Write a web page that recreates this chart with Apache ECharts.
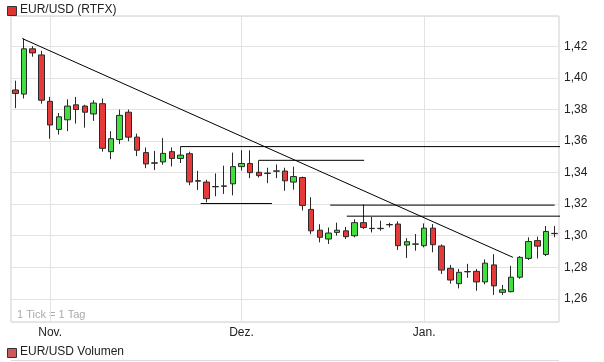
<!DOCTYPE html>
<html><head><meta charset="utf-8">
<script src="https://cdn.jsdelivr.net/npm/echarts@6/dist/echarts.min.js"></script>
<style>html,body{margin:0;padding:0;background:#fff}#c{width:604px;height:362px}</style>
</head><body><div id="c"></div>
<script>
// ---- data ----
const opens  = [1.3924,1.3898,1.4185,1.4146,1.3852,1.3674,1.3735,1.3830,1.3822,1.3772,1.3837,1.3533,1.3610,1.3783,1.3625,1.3527,1.3462,1.3468,1.3533,1.3490,1.3520,1.3349,1.3340,1.3310,1.3313,1.3329,1.3438,1.3458,1.3402,1.3395,1.3409,1.3410,1.3340,1.3369,1.3167,1.3035,1.2979,1.3021,1.3031,1.3000,1.3083,1.3045,1.3045,1.3069,1.3074,1.2941,1.2946,1.2937,1.3048,1.2935,1.2793,1.2696,1.2771,1.2774,1.2707,1.2815,1.2641,1.2645,1.2737,1.2856,1.2969,1.2881,1.3013];
const closes = [1.3902,1.4185,1.4159,1.3859,1.3702,1.3754,1.3822,1.3800,1.3783,1.3841,1.3554,1.3615,1.3763,1.3625,1.3542,1.3455,1.3460,1.3522,1.3490,1.3511,1.3341,1.3346,1.3235,1.3312,1.3316,1.3438,1.3458,1.3400,1.3381,1.3397,1.3411,1.3348,1.3375,1.3192,1.3031,1.2990,1.3017,1.3035,1.2994,1.3083,1.3052,1.3047,1.3047,1.3071,1.2937,1.2962,1.2948,1.3048,1.2943,1.2782,1.2719,1.2768,1.2773,1.2707,1.2826,1.2682,1.2657,1.2737,1.2863,1.2963,1.2934,1.3027,1.3015];
const lows   = [1.3809,1.3870,1.4135,1.3837,1.3615,1.3641,1.3663,1.3711,1.3685,1.3728,1.3533,1.3485,1.3581,1.3599,1.3505,1.3428,1.3417,1.3450,1.3439,1.3461,1.3320,1.3290,1.3212,1.3250,1.3265,1.3256,1.3413,1.3365,1.3369,1.3333,1.3365,1.3285,1.3292,1.3160,1.3010,1.2958,1.2948,1.3000,1.2979,1.2990,1.3042,1.3021,1.3032,1.3053,1.2910,1.2859,1.2905,1.2926,1.2895,1.2758,1.2696,1.2666,1.2733,1.2651,1.2692,1.2625,1.2625,1.2641,1.2727,1.2846,1.2856,1.2871,1.2990];
const highs  = [1.3983,1.4250,1.4202,1.4172,1.3880,1.3778,1.3865,1.3880,1.3830,1.3859,1.3870,1.3663,1.3800,1.3800,1.3647,1.3560,1.3538,1.3619,1.3560,1.3566,1.3533,1.3412,1.3355,1.3395,1.3444,1.3527,1.3542,1.3542,1.3478,1.3431,1.3452,1.3431,1.3438,1.3375,1.3244,1.3073,1.3052,1.3083,1.3056,1.3104,1.3198,1.3119,1.3095,1.3082,1.3091,1.2985,1.3011,1.3078,1.3074,1.2945,1.2815,1.2789,1.2822,1.2789,1.2850,1.2883,1.2688,1.2809,1.2871,1.2990,1.2994,1.3062,1.3062];
const monthIndex = [4, 26, 47];
const monthNames = ['Nov.', 'Dez.', 'Jan.'];
const yTicks = ['1,26','1,28','1,30','1,32','1,34','1,36','1,38','1,40','1,42'];
// drawn annotation lines: [index, value] pairs
const trendLine = [[0.8, 1.4250], [57.2, 1.2863]];
const hLine1 = [[19, 1.3565], [62.8, 1.3565]];
const hLine2 = [[28, 1.3478], [40.1, 1.3478]];
const hLine3 = [[21.3, 1.3204], [29.5, 1.3204]];
const hLine4 = [[36.2, 1.3194], [62.0, 1.3194]];
const hLine5 = [[38.1, 1.3124], [63.3, 1.3124]];
const yMin = 1.2453, yMax = 1.4393;

// ---- build ----
const categories = opens.map((_, i) => String(i));
const ohlc = opens.map((o, i) => [o, closes[i], lows[i], highs[i]]);
const font = "'Liberation Sans', Arial, sans-serif";
const annot = [trendLine, hLine1, hLine2, hLine3, hLine4, hLine5].map(d => ({
  type: 'line', xAxisIndex: 1, yAxisIndex: 0, data: d, symbol: 'none', clip: false,
  silent: true, z: 3, lineStyle: { color: '#000', width: 1 }
}));

const chart = echarts.init(document.getElementById('c'), null, { renderer: 'canvas' });
chart.setOption({
  animation: false,
  backgroundColor: '#fff',
  textStyle: { fontFamily: font },
  grid: { left: 11, right: 45, top: 16, bottom: 40, show: true, borderColor: '#cfcfcf', borderWidth: 1, backgroundColor: 'transparent' },
  xAxis: [{
    type: 'category', data: categories, boundaryGap: true,
    axisLine: { show: false }, axisTick: { show: false },
    splitLine: { show: false },
    axisLabel: {
      interval: (i) => monthIndex.includes(i),
      formatter: (v, i) => { const k = monthIndex.indexOf(i); return k >= 0 ? monthNames[k] : ''; },
      color: '#222', fontSize: 12, fontFamily: font, margin: 5
    }
  }, {
    type: 'value', min: -0.5, max: opens.length - 0.5, show: false
  }],
  yAxis: [{
    type: 'value', position: 'right', min: yMin, max: yMax,
    splitNumber: 10, minInterval: 0.02, maxInterval: 0.02,
    axisLine: { show: false }, axisTick: { show: false },
    splitLine: { show: true, lineStyle: { color: '#e3e3e3', width: 1 } },
    axisLabel: {
      showMinLabel: false, showMaxLabel: false, margin: 5,
      color: '#222', fontSize: 12, fontFamily: font,
      formatter: (v) => { const s = v.toFixed(2).replace('.', ','); return yTicks.includes(s) ? s : ''; }
    }
  }],
  series: [{
    type: 'candlestick', data: ohlc, barWidth: 6, z: 2,
    itemStyle: { color: '#3fdf3f', color0: '#e63a3a', borderColor: '#2a2a2a', borderColor0: '#2a2a2a', borderWidth: 1 },
    markLine: {
      silent: true, symbol: 'none', z: 1, label: { show: false },
      lineStyle: { color: '#e3e3e3', width: 1, type: 'solid' },
      data: monthIndex.map(i => ({ xAxis: i }))
    }
  }].concat(annot),
  graphic: [
    { type: 'rect', left: 7, top: 6, shape: { width: 9, height: 9 }, style: { fill: '#e03333', stroke: '#333', lineWidth: 1 } },
    { type: 'text', left: 20, top: 4, style: { text: 'EUR/USD (RTFX)', font: '12px ' + font, fill: '#222' } },
    { type: 'text', left: 17, top: 309, style: { text: '1 Tick = 1 Tag', font: '11px ' + font, fill: '#aaa' } },
    { type: 'rect', left: 7, top: 348, shape: { width: 9, height: 9 }, style: { fill: '#cc5a5a', stroke: '#333', lineWidth: 1 } },
    { type: 'text', left: 20, top: 346, style: { text: 'EUR/USD Volumen', font: '12px ' + font, fill: '#222' } },
    { type: 'line', shape: { x1: 11, y1: 360.5, x2: 559, y2: 360.5 }, style: { stroke: '#dcdcdc', lineWidth: 1 } }
  ]
});
</script></body></html>
